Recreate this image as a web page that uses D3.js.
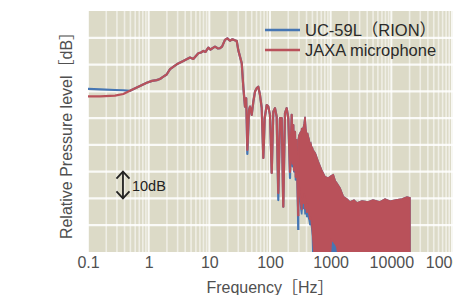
<!DOCTYPE html>
<html><head><meta charset="utf-8">
<script src="https://cdn.jsdelivr.net/npm/d3@7"></script>
<style>
html,body{margin:0;padding:0;background:#fff;overflow:hidden}
svg{display:block}
text{font-family:"Liberation Sans","Noto Sans CJK JP",Arial,sans-serif}
</style></head><body>
<svg id="c" width="453" height="295"></svg>
<script>
// ---- data ----
const xTickValues = [0.1, 1, 10, 100, 1000, 10000, 100000];
const xTickLabels = ["0.1", "1", "10", "100", "1000", "10000", "100000"];
const seriesNames = ["UC-59L（RION）", "JAXA microphone"];

// spectrum points (Hz, relative dB)
const freq = [0.1,0.158,0.279,0.382,0.492,0.719,0.929,1.136,1.357,1.537,1.723,1.98,2.25,2.9,3.72,4.8,5.44,6.58,7.29,7.96,8.65,9.62,10.45,11.07,12.4,13.9,15.0,16.2,18.1,19.8,21.9,23.7,25.5,28.3,30.0,34.2,36.3,38.7,40.5,42.3,45.1,46.8,49.9,53.1,56.6,60.4,64.1,68.4,73.0,77.6,81.8,88.3,93.8,100,106.7,113.3,120.8,128.8,137,146,156,165.6,176.6,188.4,200.3,213.7,228,236,242,250,258,266,275,284,293];
const jaxa = [58.1,58.1,58.4,59.0,60.2,62.0,63.2,63.9,64.2,64.6,65.4,66.3,68.3,70.1,71.3,72.6,72.1,74.2,74.5,75.1,74.7,76.3,75.6,76.0,76.7,76.0,76.1,76.7,79.2,79.8,78.9,79.4,79.2,78.8,75.4,70.5,61.7,54.3,57.4,38.1,53.0,54.3,51.2,56.1,59.9,61.2,61.7,58.6,53.8,35.1,50.0,54.9,54.3,51.2,29.5,52.4,53.7,50.5,22.0,50.0,50.0,16.9,51.9,53.7,50.0,29.9,51.2,33.0,47.4,30.5,44.9,28.0,41.8,25.0,13.4];
const rion = [60.9,60.7,60.5,60.4,60.2,62.0,63.2,63.9,64.2,64.6,65.4,66.3,68.3,70.1,71.3,72.6,72.1,74.2,74.5,75.1,74.7,76.3,75.6,76.0,76.7,76.0,76.1,76.7,79.2,79.8,78.9,79.4,79.2,78.8,75.4,70.5,61.7,54.3,57.4,36.6,53.0,54.3,51.2,56.1,59.9,61.2,61.7,58.6,53.8,35.1,50.0,54.9,54.3,51.2,29.5,52.4,53.7,50.5,19.4,50.0,50.0,16.9,51.9,53.7,50.0,27.6,51.2,32.0,47.4,30.0,44.9,27.0,41.8,24.0,8.2];

// dense high-frequency part: envelope of the spectrum
const bandFreq = [293,300,313,323,333,344,354,366,378,390,403,415,428,441,456,471,487,499,511,552,566,625,711,807,915,960,1030,1105,1190,1258,1426,1616,1858,2083,2425,2718,3285,4125,4985,6505,7870,9510,11940,14990,18130,20300];
const bandTop  = [42.0,43.5,44.4,42.0,46.3,45.0,46.3,48.0,50.5,46.0,43.5,44.5,43.1,42.0,40.0,40.5,39.0,39.0,38.1,37.0,36.5,33.7,30.6,28.1,27.6,28.0,28.5,28.8,26.5,25.8,23.9,20.7,19.8,18.7,19.4,18.3,19.0,18.7,19.4,18.7,19.8,19.0,19.4,19.8,20.5,20.2];
const jaxaLow  = [13.4,25.0,22.0,18.0,15.7,20.0,18.0,22.0,16.0,20.0,14.6,18.0,15.0,14.0,12.0,13.0,10.1,8.0,4.5,-5,-5,-5,-5,-5,-5,-5,4.5,4.0,3.0,2.0,-5,-5,-5,-5,-5,-5,-5,-5,-5,-5,-5,-5,-5,-5,-5,-5];
const rionLow  = [8.2,22.0,20.0,16.0,14.0,18.0,16.0,20.0,14.0,18.0,13.0,16.0,13.0,12.0,10.0,11.0,9.0,6.0,-5,-5,-5,-5,-5,-5,-5,-5,-5,-5,-5,-5,-5,-5,-5,-5,-5,-5,-5,-5,-5,-5,-5,-5,-5,-5,-5,-5];

// ---- chart ----
const svg = d3.select("#c");
const L = 88, R = 452, T = 11, B = 252;
const x = d3.scaleLog().domain([0.1, 100000]).range([L, R]);
const y = d3.scaleLinear().domain([0, 90]).range([B, T]);
const blue = "#4676b3", red = "#b9515a";

svg.append("defs").append("clipPath").attr("id", "pc")
  .append("rect").attr("x", L).attr("y", T).attr("width", R - L + 10).attr("height", B - T);

svg.append("rect").attr("x", L).attr("y", T).attr("width", R - L + 10).attr("height", B - T)
  .attr("fill", "#dcdac7");

const g = svg.append("g").attr("clip-path", "url(#pc)");
// vertical grid
const vlines = [];
for (let e = -1; e <= 5; e++) for (let m = 1; m <= 9; m++) vlines.push(m * Math.pow(10, e));
g.selectAll(".vg").data(vlines).enter().append("line")
  .attr("x1", d => x(d)).attr("x2", d => x(d)).attr("y1", T).attr("y2", B)
  .attr("stroke", "#fff").attr("stroke-opacity", (d, i) => i % 9 === 0 ? 0.8 : 0.55)
  .attr("stroke-width", (d, i) => i % 9 === 0 ? 2 : 1.6);
// horizontal grid
g.selectAll(".hg").data(d3.range(10, 90, 10)).enter().append("line")
  .attr("x1", L).attr("x2", R + 10).attr("y1", d => y(d)).attr("y2", d => y(d))
  .attr("stroke", "#fff").attr("stroke-opacity", 0.85).attr("stroke-width", 2.2);

const line = d3.line().x(d => x(d[0])).y(d => y(d[1]));
const area = d3.area().x(d => x(d[0])).y0(d => y(d[2])).y1(d => y(d[1]));

function drawSeries(vals, low, color) {
  g.append("path").datum(freq.map((f, i) => [f, vals[i]]))
    .attr("d", line).attr("fill", "none").attr("stroke", color)
    .attr("stroke-width", 2.2).attr("stroke-linejoin", "round");
  g.append("path").datum(bandFreq.map((f, i) => [f, bandTop[i], low[i]]))
    .attr("d", area).attr("fill", color).attr("stroke", color).attr("stroke-width", 1.5);
}
drawSeries(rion, rionLow, blue);
drawSeries(jaxa, jaxaLow, red);

// x tick labels
svg.append("g").attr("transform", `translate(0,${B})`)
  .call(d3.axisBottom(x).tickValues(xTickValues).tickFormat((d, i) => xTickLabels[i]).tickSize(0))
  .call(a => a.select(".domain").remove())
  .call(a => a.selectAll("text").attr("y", 16).attr("dy", 0)
    .attr("font-size", 16).attr("fill", "#505050")
    .attr("font-family", "Liberation Sans, Arial, sans-serif"));

// axis titles
svg.append("text").attr("x", 270).attr("y", 293).attr("text-anchor", "middle")
  .attr("font-size", 16).attr("fill", "#505050").text("Frequency［Hz］");
svg.append("text").attr("transform", `translate(72,${(T + B) / 2}) rotate(-90)`)
  .attr("text-anchor", "middle").attr("font-size", 16).attr("fill", "#505050")
  .text("Relative Pressure level［dB］");

// 10 dB scale arrow
const ax = x(0.377), y1 = y(30), y2 = y(20);
svg.append("line").attr("x1", ax).attr("x2", ax).attr("y1", y1).attr("y2", y2)
  .attr("stroke", "#222").attr("stroke-width", 1.8);
svg.append("path").attr("d", `M${ax - 6.5},${y1 + 7}L${ax},${y1}L${ax + 6.5},${y1 + 7}M${ax - 6.5},${y2 - 7}L${ax},${y2}L${ax + 6.5},${y2 - 7}`)
  .attr("fill", "none").attr("stroke", "#222").attr("stroke-width", 1.8);
svg.append("text").attr("x", ax + 9).attr("y", (y1 + y2) / 2 + 5.5)
  .attr("font-size", 14.5).attr("fill", "#222").text("10dB");

// legend
const lg = svg.append("g");
[blue, red].forEach((c, i) => {
  const ly = 30 + i * 20;
  lg.append("line").attr("x1", 265).attr("x2", 300).attr("y1", ly).attr("y2", ly)
    .attr("stroke", c).attr("stroke-width", 2.5);
  lg.append("text").attr("x", 305).attr("y", ly + 6).attr("font-size", 16.5)
    .attr("fill", "#2a2a2a").text(seriesNames[i]);
});
</script></body></html>
